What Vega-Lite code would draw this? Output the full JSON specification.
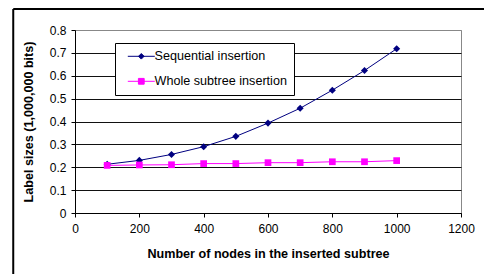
{
  "$schema": "https://vega.github.io/schema/vega-lite/v6.json",
  "width": 386,
  "height": 183,
  "autosize": "none",
  "padding": {"left": 75, "top": 30, "right": 23, "bottom": 61},
  "background": "white",
  "config": {
    "view": {"stroke": "#888888", "strokeWidth": 1},
    "font": "Liberation Sans"
  },
  "data": {
    "values": [
      {"n": 100, "size": 0.213, "series": "Sequential insertion"},
      {"n": 200, "size": 0.23, "series": "Sequential insertion"},
      {"n": 300, "size": 0.256, "series": "Sequential insertion"},
      {"n": 400, "size": 0.29, "series": "Sequential insertion"},
      {"n": 500, "size": 0.335, "series": "Sequential insertion"},
      {"n": 600, "size": 0.393, "series": "Sequential insertion"},
      {"n": 700, "size": 0.458, "series": "Sequential insertion"},
      {"n": 800, "size": 0.537, "series": "Sequential insertion"},
      {"n": 900, "size": 0.623, "series": "Sequential insertion"},
      {"n": 1000, "size": 0.718, "series": "Sequential insertion"},
      {"n": 100, "size": 0.208, "series": "Whole subtree insertion"},
      {"n": 200, "size": 0.21, "series": "Whole subtree insertion"},
      {"n": 300, "size": 0.211, "series": "Whole subtree insertion"},
      {"n": 400, "size": 0.216, "series": "Whole subtree insertion"},
      {"n": 500, "size": 0.216, "series": "Whole subtree insertion"},
      {"n": 600, "size": 0.22, "series": "Whole subtree insertion"},
      {"n": 700, "size": 0.22, "series": "Whole subtree insertion"},
      {"n": 800, "size": 0.224, "series": "Whole subtree insertion"},
      {"n": 900, "size": 0.224, "series": "Whole subtree insertion"},
      {"n": 1000, "size": 0.229, "series": "Whole subtree insertion"}
    ]
  },
  "encoding": {
    "x": {
      "field": "n",
      "type": "quantitative",
      "scale": {"domain": [0, 1200], "nice": false, "zero": false},
      "axis": {
        "values": [0, 200, 400, 600, 800, 1000, 1200],
        "format": "d",
        "title": "Number of nodes in the inserted subtree",
        "titleFont": "Liberation Sans",
        "titleFontWeight": "bold",
        "titleFontSize": 12.6,
        "titleColor": "black",
        "titlePadding": 13,
        "labelFont": "Liberation Sans",
        "labelFontSize": 12,
        "labelColor": "black",
        "labelPadding": 6,
        "labelFlush": false,
        "domainColor": "black",
        "tickColor": "black",
        "tickSize": 4,
        "grid": false
      }
    },
    "y": {
      "field": "size",
      "type": "quantitative",
      "scale": {"domain": [0, 0.8], "nice": false},
      "axis": {
        "values": [0, 0.1, 0.2, 0.3, 0.4, 0.5, 0.6, 0.7, 0.8],
        "format": "~g",
        "title": "Label sizes (1,000,000 bits)",
        "titleFont": "Liberation Sans",
        "titleFontWeight": "bold",
        "titleFontSize": 12.6,
        "titleColor": "black",
        "titlePadding": 14,
        "labelFont": "Liberation Sans",
        "labelFontSize": 12,
        "labelColor": "black",
        "labelPadding": 5,
        "domainColor": "black",
        "tickColor": "black",
        "tickSize": 4,
        "grid": true,
        "gridColor": {"condition": {"test": "datum.value >= 0.8", "value": "#888888"}, "value": "#111111"},
        "gridWidth": 1
      }
    }
  },
  "layer": [
    {
      "mark": {"type": "line", "strokeWidth": 1},
      "encoding": {
        "color": {
          "field": "series",
          "type": "nominal",
          "scale": {"domain": ["Sequential insertion", "Whole subtree insertion"], "range": ["#000080", "#FF00FF"]},
          "legend": {
            "orient": "none",
            "legendX": 40,
            "legendY": 13,
            "title": null,
            "strokeColor": "black",
            "fillColor": "white",
            "padding": 7,
            "rowPadding": 12,
            "symbolSize": 64,
            "symbolOffset": 13,
            "labelOffset": 7,
            "labelFont": "Liberation Sans",
            "labelFontSize": 12.6,
            "labelColor": "black",
            "encode": {
              "symbols": {
                "update": {
                  "shape": {"signal": "datum.value === 'Sequential insertion' ? 'M-3.375,0L3.375,0M0,-0.7L0.7,0L0,0.7L-0.7,0Z' : 'M-3.375,0L3.375,0M-0.72,-0.72L0.72,-0.72L0.72,0.72L-0.72,0.72Z'"},
                  "fill": {"signal": "datum.value === 'Sequential insertion' ? '#000080' : '#FF00FF'"},
                  "stroke": {"signal": "datum.value === 'Sequential insertion' ? '#000080' : '#FF00FF'"},
                  "strokeWidth": {"value": 1},
                  "opacity": {"value": 1},
                  "fillOpacity": {"value": 1}
                }
              }
            }
          }
        }
      }
    },
    {
      "transform": [{"filter": "datum.series === 'Sequential insertion'"}],
      "mark": {"type": "point", "shape": "diamond", "filled": true, "size": 50, "color": "#000080", "opacity": 1}
    },
    {
      "transform": [{"filter": "datum.series === 'Whole subtree insertion'"}],
      "mark": {"type": "point", "shape": "square", "filled": true, "size": 45, "color": "#FF00FF", "opacity": 1}
    },
    {
      "transform": [{"filter": "datum.n === 100 && datum.series === 'Sequential insertion'"}],
      "mark": {"type": "rule", "color": "black", "strokeWidth": 2, "clip": false},
      "encoding": {
        "x": {"datum": -192},
        "x2": {"datum": 1300},
        "y": {"datum": 0.892}
      }
    },
    {
      "transform": [{"filter": "datum.n === 100 && datum.series === 'Sequential insertion'"}],
      "mark": {"type": "rule", "color": "black", "strokeWidth": 2, "clip": false},
      "encoding": {
        "x": {"datum": -192},
        "y": {"datum": 0.892},
        "y2": {"datum": -0.4}
      }
    }
  ]
}
